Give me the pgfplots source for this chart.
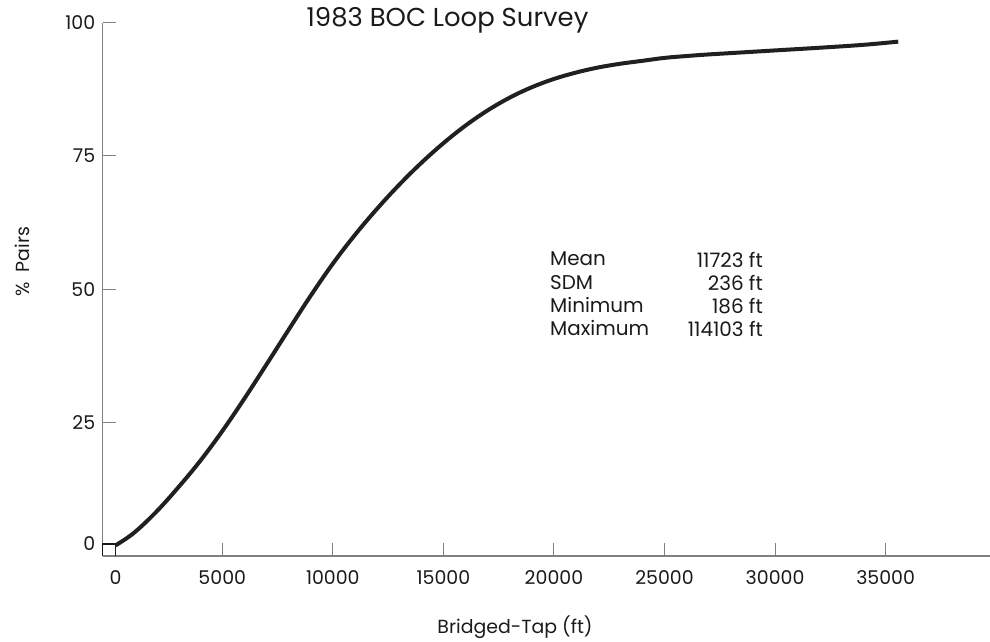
\documentclass[border=0pt]{standalone}
\usepackage{pgfplots}
\pgfplotsset{compat=1.18}
\usepackage{fontspec}
\setmainfont{Poppins}
\definecolor{txt}{HTML}{1A1A1A}
\definecolor{curve}{HTML}{231F20}
\definecolor{axgray}{HTML}{808080}
\begin{document}
\begin{tikzpicture}
\useasboundingbox (-102.7bp,-86bp) rectangle (887.3bp,555.9bp);
\begin{axis}[
  at={(0bp,0bp)}, anchor=south west,
  scale only axis,
  width=887.3bp, height=533.2bp,
  xmin=-407, xmax=39720,
  ymin=0, ymax=100,
  axis x line=bottom, axis y line=left,
  axis line style={-, line width=1.5bp, color=axgray},
  tick align=inside,
  major tick length=13bp,
  tick style={color=axgray, line width=1bp},
  scaled x ticks=false,
  scaled y ticks=false,
  xtick={172,5000,10000,15000,20000,25000,30000,35000},
  xticklabels={0,5000,10000,15000,20000,25000,30000,35000},
  ytick={2.25,25,50,75,100},
  yticklabels={0,25,50,75,100},
  tick label style={font=\fontsize{19}{21}\selectfont, color=txt},
  xticklabel style={yshift=-11bp},
  yticklabel style={xshift=-4bp},
  clip=false,
]
\addplot[color=curve, line width=4bp, smooth, tension=0.6] coordinates {
(172,1.97) (1000,4.3) (2000,8.2) (3000,12.8) (4000,17.8) (5000,23.4) (6000,29.5)
(7000,35.9) (8000,42.4) (9000,48.8) (10000,54.8) (11000,60.2) (12000,65.1)
(13000,69.6) (14000,73.7) (15000,77.4) (16000,80.7) (17000,83.55) (18000,85.95)
(19000,87.9) (20000,89.45) (21000,90.65) (22000,91.6) (23000,92.3) (24000,92.85)
(25000,93.4) (26000,93.75) (27000,94.05) (28000,94.3) (30000,94.8) (32000,95.3)
(34000,95.85) (35570,96.45)
};
\addplot[color=txt, line width=1.2bp] coordinates {(-407,0) (-407,2.25) (172,2.25) (172,0)};
\end{axis}
\node[anchor=center, font=\fontsize{26}{30}\selectfont, color=txt] at (344.8bp,536bp) {1983 BOC Loop Survey};
\node[anchor=center, font=\fontsize{19}{22}\selectfont, color=txt] at (412.3bp,-71bp) {Bridged-Tap (ft)};
\node[anchor=center, rotate=90, font=\fontsize{19}{22}\selectfont, color=txt] at (-80.7bp,294bp) {\%\ \ Pairs};
\node[anchor=north west, align=left, inner sep=0pt, font=\fontsize{20}{23.3}\selectfont, color=txt] at (447.3bp,304bp) {Mean\\SDM\\Minimum\\Maximum};
\node[anchor=north east, align=right, inner sep=0pt, font=\fontsize{20}{23.3}\selectfont, color=txt] at (660.3bp,304bp) {11723 ft\\236 ft\\186 ft\\114103 ft};
\end{tikzpicture}
\end{document}
